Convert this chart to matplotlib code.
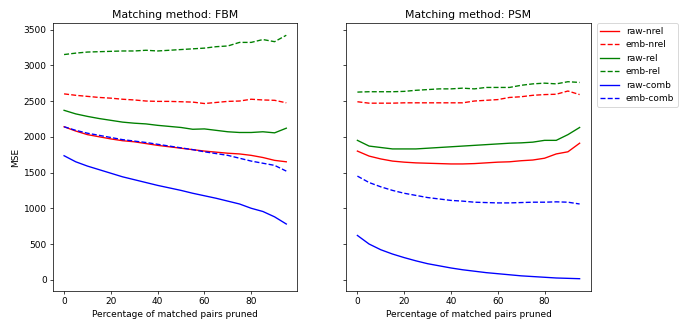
import matplotlib
matplotlib.use('Agg')
import matplotlib.pyplot as plt
import numpy as np

# percentage of matched pairs pruned
pruned = np.arange(0, 100, 5)

# FBM
fbm_raw_nrel = [2140, 2080, 2030, 2000, 1970, 1945, 1930, 1905, 1880, 1860,
                1840, 1820, 1800, 1785, 1770, 1760, 1740, 1710, 1670, 1650]
fbm_emb_nrel = [2600, 2580, 2565, 2550, 2540, 2525, 2515, 2500, 2495, 2495,
                2490, 2485, 2465, 2480, 2495, 2500, 2525, 2515, 2510, 2475]
fbm_raw_rel = [2370, 2320, 2285, 2255, 2230, 2205, 2190, 2180, 2160, 2145,
               2130, 2105, 2110, 2090, 2070, 2060, 2060, 2070, 2055, 2120]
fbm_emb_rel = [3150, 3170, 3185, 3190, 3195, 3200, 3200, 3210, 3200, 3210,
               3220, 3230, 3240, 3260, 3270, 3320, 3320, 3360, 3330, 3420]
fbm_raw_comb = [1735, 1650, 1590, 1540, 1490, 1440, 1400, 1360, 1320, 1285,
                1250, 1210, 1175, 1140, 1100, 1060, 1000, 955, 880, 780]
fbm_emb_comb = [2140, 2090, 2050, 2020, 1990, 1960, 1940, 1920, 1895, 1870,
                1845, 1820, 1790, 1765, 1740, 1700, 1660, 1630, 1600, 1520]

# PSM
psm_raw_nrel = [1800, 1730, 1690, 1660, 1645, 1635, 1630, 1625, 1620, 1620,
                1625, 1635, 1645, 1650, 1665, 1675, 1700, 1760, 1790, 1910]
psm_emb_nrel = [2490, 2470, 2470, 2470, 2475, 2475, 2475, 2475, 2475, 2475,
                2500, 2510, 2520, 2550, 2560, 2580, 2590, 2595, 2640, 2590]
psm_raw_rel = [1950, 1870, 1850, 1830, 1830, 1830, 1840, 1850, 1860, 1870,
               1880, 1890, 1900, 1910, 1915, 1925, 1950, 1950, 2030, 2130]
psm_emb_rel = [2625, 2630, 2630, 2630, 2635, 2650, 2660, 2670, 2670, 2680,
               2670, 2690, 2690, 2690, 2720, 2740, 2750, 2740, 2770, 2760]
psm_raw_comb = [620, 500, 420, 360, 310, 265, 225, 195, 165, 140,
                120, 100, 85, 70, 55, 45, 35, 25, 20, 15]
psm_emb_comb = [1450, 1360, 1300, 1250, 1210, 1180, 1150, 1130, 1110, 1100,
                1085, 1080, 1075, 1075, 1080, 1085, 1085, 1090, 1085, 1060]

labels = ['raw-nrel', 'emb-nrel', 'raw-rel', 'emb-rel', 'raw-comb', 'emb-comb']
styles = ['-r', '--r', '-g', '--g', '-b', '--b']

fbm = [fbm_raw_nrel, fbm_emb_nrel, fbm_raw_rel, fbm_emb_rel, fbm_raw_comb, fbm_emb_comb]
psm = [psm_raw_nrel, psm_emb_nrel, psm_raw_rel, psm_emb_rel, psm_raw_comb, psm_emb_comb]

fig, axes = plt.subplots(1, 2, sharey=True, figsize=(679/65., 325/65.), dpi=65)
fig.subplots_adjust(left=0.078, right=0.870, top=0.929, bottom=0.105, wspace=0.2)

for ax, data, name in zip(axes, [fbm, psm], ['FBM', 'PSM']):
    for y, st, lab in zip(data, styles, labels):
        ax.plot(pruned, y, st, label=lab)
    ax.set_title('Matching method: ' + name)
    ax.set_xlabel('Percentage of matched pairs pruned')

axes[0].set_ylabel('MSE')
axes[1].legend(loc='upper left', bbox_to_anchor=(1.025, 1), borderaxespad=0)

plt.savefig('out.png', dpi=65)
